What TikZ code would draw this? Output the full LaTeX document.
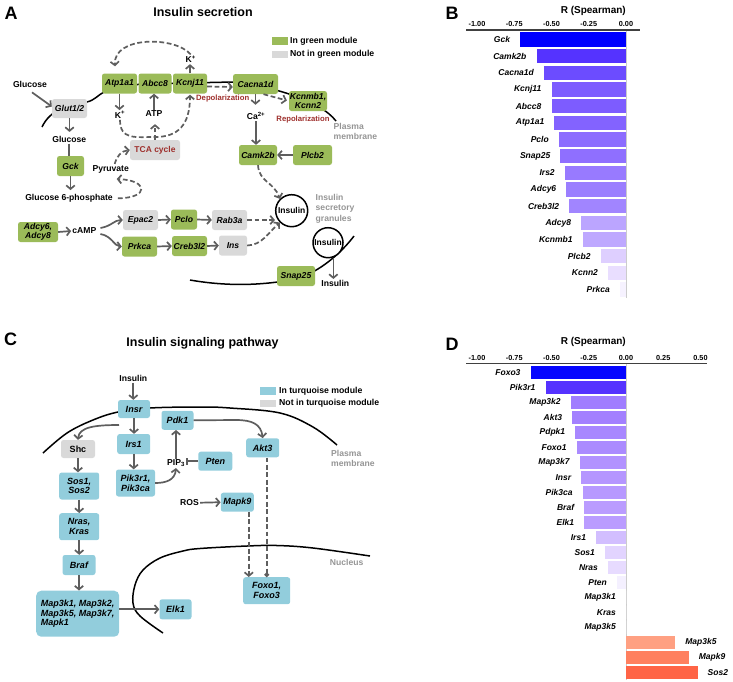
\documentclass[tikz,border=0pt]{standalone}
\usepackage{fontspec}
\setmainfont{Liberation Sans}
\usetikzlibrary{arrows.meta,calc}
\definecolor{gfill}{HTML}{9BBB59}
\definecolor{bfill}{HTML}{92CDDC}
\definecolor{nfill}{HTML}{D9D9D9}
\definecolor{agray}{HTML}{5E5E5E}
\definecolor{dred}{HTML}{9E2F2C}
\definecolor{lgray}{HTML}{959595}
\begin{document}
\begin{tikzpicture}[x=1pt,y=-1pt,
  nd/.style={rounded corners=2.5pt, inner sep=0pt, minimum height=20pt, align=center, font=\fontsize{8.6}{9.2}\selectfont\bfseries\itshape},
  gnd/.style={nd, fill=gfill},
  nnd/.style={nd, fill=nfill},
  bnd/.style={nd, fill=bfill, font=\fontsize{9}{9.6}\selectfont\bfseries\itshape},
  lbl/.style={font=\fontsize{8.6}{10}\selectfont\bfseries, inner sep=1pt},
  rlbl/.style={font=\fontsize{7.7}{9}\selectfont\bfseries, text=dred, inner sep=1pt},
  glbl/.style={font=\fontsize{8.6}{10}\selectfont\bfseries, text=lgray, align=left, inner sep=0pt, anchor=west},
  leg/.style={font=\fontsize{8.7}{10}\selectfont\bfseries, inner sep=0pt, anchor=west},
  lkey/.style={minimum width=16pt, minimum height=7.8pt, inner sep=0pt},
  ttl/.style={font=\fontsize{12.5}{14}\selectfont\bfseries, inner sep=0pt},
  plab/.style={font=\fontsize{18}{20}\selectfont\bfseries, inner sep=0pt},
  icirc/.style={circle, draw=black, line width=1.5pt, fill=white, inner sep=0pt, font=\fontsize{8.5}{9}\selectfont\bfseries},
  memb/.style={draw=black, line width=1.5pt},
  arr/.style={draw=agray, line width=1.7pt, -{Straight Barb[length=3.6pt,width=8.5pt]}},
  darr/.style={arr, dash pattern=on 4.8pt off 2.6pt},
  ddot/.style={draw=agray, line width=1.7pt, dash pattern=on 4.8pt off 2.6pt, -{Circle[length=4.5pt]}},
  inh/.style={draw=agray, line width=1.7pt, -{Bar[width=7pt]}},
  blab/.style={font=\fontsize{8.5}{9}\selectfont\bfseries\itshape, inner sep=0pt},
  tick/.style={font=\fontsize{7.3}{8}\selectfont\bfseries, inner sep=0pt},
  ctitle/.style={font=\fontsize{10}{11}\selectfont\bfseries, inner sep=0pt}
]
\useasboundingbox (0,0) rectangle (733,681);

% ================= Panel A =================
\node[plab] (pA) at (11,13.3) {A};
\node[ttl] (tA) at (203,12) {Insulin secretion};
\node[lkey, fill=gfill] (kA1) at (279.5,41.3) {};
\node[leg] (lA1) at (290,41.5) {In green module};
\node[lkey, fill=nfill] (kA2) at (279.5,54.5) {};
\node[leg] (lA2) at (290,54.7) {Not in green module};

% membranes
\draw[memb] (42,127) .. controls (50,110) and (68,104) .. (87,102) .. controls (95,100) and (98,95) .. (104,92) -- (140,84) -- (233,82) .. controls (270,86) and (320,100) .. (336,121);
\draw[memb] (190,280) .. controls (230,287) and (265,285) .. (296,279) .. controls (320,272) and (342,252) .. (354,236);

% nodes
\node[gnd, minimum width=35pt] (atp1) at (119.5,83.5) {Atp1a1};
\node[gnd, minimum width=33pt] (abcc) at (155,83.5) {Abcc8};
\node[gnd, minimum width=34pt] (kcnj) at (190,83.5) {Kcnj11};
\node[gnd, minimum width=45pt] (cac) at (255.5,84) {Cacna1d};
\node[gnd, minimum width=38pt] (kcn) at (308,101) {Kcnmb1,\\Kcnn2};
\node[nnd, minimum width=35pt, minimum height=19pt] (glut) at (69.5,108.5) {Glut1/2};
\node[gnd, minimum width=27pt] (gck) at (70.5,166) {Gck};
\node[nnd, minimum width=50pt, text=dred, font=\fontsize{8.5}{9}\selectfont\bfseries] (tca) at (155,150) {TCA cycle};
\node[gnd, minimum width=38pt] (camk) at (258,155) {Camk2b};
\node[gnd, minimum width=39pt] (plcb) at (312.5,155) {Plcb2};
\node[nnd, minimum width=35pt] (epac) at (140.5,220) {Epac2};
\node[gnd, minimum width=26pt] (pclo) at (184,219.5) {Pclo};
\node[nnd, minimum width=35pt] (rab) at (229.5,220) {Rab3a};
\node[gnd, minimum width=35pt] (prk) at (139.5,246.5) {Prkca};
\node[gnd, minimum width=35pt] (creb) at (189.5,246) {Creb3l2};
\node[nnd, minimum width=28pt] (insg) at (233,245.5) {Ins};
\node[gnd, minimum width=40pt] (adcy) at (38,232) {Adcy6,\\Adcy8};
\node[gnd, minimum width=38pt] (snap) at (296,276) {Snap25};
\node[icirc, minimum size=32pt] (ins1) at (291.7,210.7) {Insulin};
\node[icirc, minimum size=30pt] (ins2) at (328,242.7) {Insulin};

% text labels
\node[lbl] (glc1) at (30,84) {Glucose};
\node[lbl] (glc2) at (69.3,139.3) {Glucose};
\node[lbl] (k1) at (120,115) {K\textsuperscript{+}};
\node[lbl] (atpt) at (154,114) {ATP};
\node[lbl] (k2) at (190.7,59.3) {K\textsuperscript{+}};
\node[lbl] (pyr) at (110.7,169) {Pyruvate};
\node[lbl] (g6p) at (69,198.3) {Glucose 6-phosphate};
\node[lbl] (camp) at (84.3,231) {cAMP};
\node[rlbl] (dep) at (222.7,99) {Depolarization};
\node[lbl] (ca) at (256,116) {Ca\textsuperscript{2+}};
\node[rlbl] (rep) at (303,120) {Repolarization};
\node[glbl] (pmA) at (333.5,131.7) {Plasma\\membrane};
\node[glbl, font=\fontsize{8.6}{10.3}\selectfont\bfseries] (isg) at (315.5,208.7) {Insulin\\secretory\\granules};
\node[lbl] (insout) at (335.3,283.3) {Insulin};

% arrows
\draw[arr] ([xshift=2pt,yshift=-4pt]glc1.south) -- ([yshift=2pt]glut.west);
\draw[arr, shorten >=3pt] (glut.south) -- (glut.south |- glc2.north);
\draw[draw=agray, line width=1.7pt] (glc2.south) -- (glc2.south |- gck.north);
\draw[arr, shorten >=3pt] (gck.south) -- (gck.south |- g6p.north);
\draw[darr] ([xshift=4pt]g6p.east) .. controls (150,198) and (148,180) .. ([xshift=6pt,yshift=-5pt]pyr.south);
\draw[darr] ([xshift=4pt]pyr.north) .. controls (117,156) and (121,151) .. (tca.west);
\draw[darr, shorten >=6pt] (tca.north) -- (tca.north |- atpt.south);
\draw[darr, shorten >=1pt] (k1.south) .. controls (120,140) and (135,137) .. (155,137) .. controls (178,137) and (190,125) .. (kcnj.south);
\draw[arr] (atp1.south) -- (atp1.south |- k1.north);
\draw[arr] (atpt.north) -- (atpt.north |- abcc.south);
\draw[arr] (kcnj.north) -- (kcnj.north |- k2.south);
\draw[darr, shorten >=7pt] (k2.north) .. controls (175,36) and (113,36) .. ([xshift=-4pt]atp1.north);
\draw[darr] ([yshift=-3pt]kcnj.east) -- ([yshift=-3pt]cac.west);
\draw[darr, shorten >=2pt] ([xshift=8pt]cac.south) -- (kcn.west);
\draw[arr, shorten >=6pt] (cac.south) -- (cac.south |- ca.north);
\draw[arr] (ca.south) -- (ca.south |- camk.north);
\draw[arr] (plcb.west) -- (camk.east);
\draw[darr] (camk.south) .. controls (259,182) and (274,182) .. (ins1.north west);
\draw[darr] (rab.east) -- (rab.east -| ins1.west);
\draw[darr] (insg.east) .. controls (262,245) and (268,233) .. (ins1.south west);
\draw[arr] (epac.east) -- (pclo.west);
\draw[arr] (pclo.east) -- (rab.west);
\draw[arr] (prk.east) -- (creb.west);
\draw[arr] (creb.east) -- (insg.west);
\draw[arr] (adcy.east) -- (camp.west);
\draw[arr] ([xshift=3pt,yshift=3pt]camp.east) .. controls (112,226) and (114,220) .. (epac.west);
\draw[arr] ([xshift=3pt,yshift=-3pt]camp.east) .. controls (112,236) and (114,246) .. (prk.west);
\draw[arr] (ins2.-70) -- (ins2.-70 |- insout.north);

% ================= Panel C =================
\node[plab] (pC) at (10.5,339) {C};
\node[ttl] (tC) at (202.5,343.3) {Insulin signaling pathway};
\node[lkey, fill=bfill] (kC1) at (268.3,390.8) {};
\node[leg] (lC1) at (279,390.9) {In turquoise module};
\node[lkey, fill=nfill] (kC2) at (268.3,403.5) {};
\node[leg] (lC2) at (279,403.7) {Not in turquoise module};

\draw[memb] plot[smooth, tension=0.6] coordinates {(43,453) (67,433) (93,420) (118,412) (150,408) (200,407) (230,408) (280,413) (313,427) (337,445)};
\draw[memb] plot[smooth, tension=0.6] coordinates {(163,633) (140,616) (133,603) (135,585) (143,570) (160,558) (183,551) (200,548.5) (247,546) (277,545.5) (313,548) (370,556)};

\node[bnd, minimum width=32pt, minimum height=18pt] (insr) at (134,409) {Insr};
\node[bnd, minimum width=33pt] (irs) at (133.7,444) {Irs1};
\node[bnd, minimum width=32pt, minimum height=19pt] (pdk) at (177.5,420.3) {Pdk1};
\node[nnd, minimum width=34pt, minimum height=18pt, font=\fontsize{9}{9.6}\selectfont\bfseries] (shc) at (78,449) {Shc};
\node[bnd, minimum width=39pt, minimum height=27pt] (pik) at (135.5,483) {Pik3r1,\\Pik3ca};
\node[bnd, minimum width=34pt, minimum height=19pt] (pten) at (215.3,461.2) {Pten};
\node[bnd, minimum width=33pt, minimum height=19pt] (akt) at (262.7,447.8) {Akt3};
\node[bnd, minimum width=40pt, minimum height=27pt] (sos) at (79.2,486) {Sos1,\\Sos2};
\node[bnd, minimum width=40pt, minimum height=27pt] (nras) at (79.2,526.7) {Nras,\\Kras};
\node[bnd, minimum width=33pt] (braf) at (79,565) {Braf};
\node[bnd, minimum width=83pt, minimum height=46pt, align=left, rounded corners=5pt] (map) at (77.7,613.7) {Map3k1, Map3k2,\\Map3k5, Map3k7,\\Mapk1};
\node[bnd, minimum width=32pt] (elk) at (175.5,609.3) {Elk1};
\node[bnd, minimum width=33pt, minimum height=19pt] (mapk9) at (237.3,502.2) {Mapk9};
\node[bnd, minimum width=47pt, minimum height=27pt] (foxo) at (266.7,590.7) {Foxo1,\\Foxo3};

\node[lbl] (insC) at (133.3,378.3) {Insulin};
\node[lbl] (pip) at (176,463.3) {PIP\textsubscript{3}};
\node[lbl] (ros) at (189.5,502.7) {ROS};
\node[glbl] (pmC) at (331,458.3) {Plasma\\membrane};
\node[lbl, text=lgray] (nuc) at (346.7,562.3) {Nucleus};

\draw[arr] (insC.south) -- (insC.south |- insr.north);
\draw[arr] (insr.south) -- (insr.south |- irs.north);
\draw[arr] (irs.south) -- (irs.south |- pik.north);
\coordinate (shcfrom) at (119,425);
\draw[arr] (shcfrom) .. controls (95,425) and (79,427) .. (shc.north);
\draw[arr] (shc.south) -- (shc.south |- sos.north);
\draw[arr] (sos.south) -- (sos.south |- nras.north);
\draw[arr] (nras.south) -- (nras.south |- braf.north);
\draw[arr] (braf.south) -- (braf.south |- map.north);
\draw[arr] (map.east |- elk.west) -- (elk.west);
\draw[arr] (pik.east) .. controls (166,483) and (175,480) .. (pip.south);
\draw[arr] (pip.north) -- (pip.north |- pdk.south);
\draw[inh] (pten.west) -- (pten.west -| pip.east);
\draw[arr] (pdk.east) -- (236,420) .. controls (252,420) and (261,424) .. (akt.north);
\draw[ddot] (akt.south -| foxo.north) -- (foxo.north);
\draw[darr] ($(mapk9.south)+(11.5,0)$) -- ($(mapk9.south |- foxo.north)+(11.5,0)$);
\draw[arr] (ros.east) -- (mapk9.west);

% ================= Panel B =================
\node[plab] (pB) at (452,13.3) {B};
\node[ctitle] (tB) at (593.3,11) {R (Spearman)};
\foreach \val/\txt in {-1/-1.00,-0.75/-0.75,-0.5/-0.50,-0.25/-0.25,0/0.00}
  \node[tick] at (626+149*\val,24) {\txt};
\draw[draw=black!20, line width=0.8pt] (626,30) -- (626,298);
\foreach \val/\lab/\colr/\colg/\colb [count=\idx from 0] in {
  -0.71/Gck/0/0/255, -0.60/Camk2b/85/51/255, -0.55/Cacna1d/108/76/255,
  -0.50/Kcnj11/125/92/255, -0.50/Abcc8/125/92/255, -0.48/Atp1a1/131/99/255,
  -0.45/Pclo/140/108/255, -0.44/Snap25/143/111/255, -0.41/Irs2/152/122/255,
  -0.40/Adcy6/155/126/255, -0.38/Creb3l2/161/133/255, -0.30/Adcy8/187/165/255,
  -0.29/Kcnmb1/190/168/255, -0.17/Plcb2/222/207/255, -0.12/Kcnn2/233/222/255,
  -0.04/Prkca/246/242/255}{
  \pgfmathsetmacro\yc{39.5+16.67*\idx}
  \pgfmathsetmacro\xl{626+149*\val}
  \definecolor{barc}{RGB}{\colr,\colg,\colb}
  \fill[barc] (\xl,\yc-7.2) rectangle (626,\yc+7.2);
  \node[blab, anchor=east] (bB\idx) at (\xl-10,\yc) {\lab};
}
\draw[draw=black!75, line width=1.2pt] (466,30) -- (640,30);

% ================= Panel D =================
\node[plab] (pD) at (452,344) {D};
\node[ctitle] (tD) at (593.3,342.3) {R (Spearman)};
\foreach \val/\txt in {-1/-1.00,-0.75/-0.75,-0.5/-0.50,-0.25/-0.25,0/0.00,0.25/0.25,0.5/0.50}
  \node[tick] at (626+149*\val,358.3) {\txt};
\draw[draw=black!20, line width=0.8pt] (626,363) -- (626,680);
\foreach \val/\lab/\colr/\colg/\colb [count=\idx from 0] in {
  -0.64/Foxo3/5/5/255, -0.54/Pik3r1/85/50/255, -0.37/Map3k2/160/125/255,
  -0.36/Akt3/163/128/255, -0.34/Pdpk1/168/135/255, -0.33/Foxo1/171/139/255,
  -0.31/Map3k7/178/146/255, -0.30/Insr/181/150/255, -0.29/Pik3ca/183/153/255,
  -0.28/Braf/186/156/255, -0.28/Elk1/186/156/255, -0.20/Irs1/210/190/255,
  -0.14/Sos1/226/212/255, -0.12/Nras/231/219/255, -0.06/Pten/244/240/255,
  0/Map3k1/255/255/255, 0/Kras/255/255/255, 0/Map3k5/255/255/255}{
  \pgfmathsetmacro\yc{372.3+15*\idx}
  \pgfmathsetmacro\xl{626+149*\val}
  \definecolor{barc}{RGB}{\colr,\colg,\colb}
  \fill[barc] (\xl,\yc-6.8) rectangle (626,\yc+6.8);
  \node[blab, anchor=east] (bD\idx) at (\xl-10,\yc) {\lab};
}
\foreach \val/\lab/\colr/\colg/\colb [count=\idx from 18] in {
  0.33/Map3k5/255/160/130, 0.42/Mapk9/255/128/95, 0.48/Sos2/255/100/70}{
  \pgfmathsetmacro\yc{372.3+15*\idx}
  \pgfmathsetmacro\xr{626+149*\val}
  \definecolor{barc}{RGB}{\colr,\colg,\colb}
  \fill[barc] (626,\yc-6.8) rectangle (\xr,\yc+6.8);
  \node[blab, anchor=west] (bD\idx) at (\xr+10,\yc) {\lab};
}
\draw[draw=black!75, line width=1.2pt] (466,363.3) -- (707,363.3);
\end{tikzpicture}
\end{document}
